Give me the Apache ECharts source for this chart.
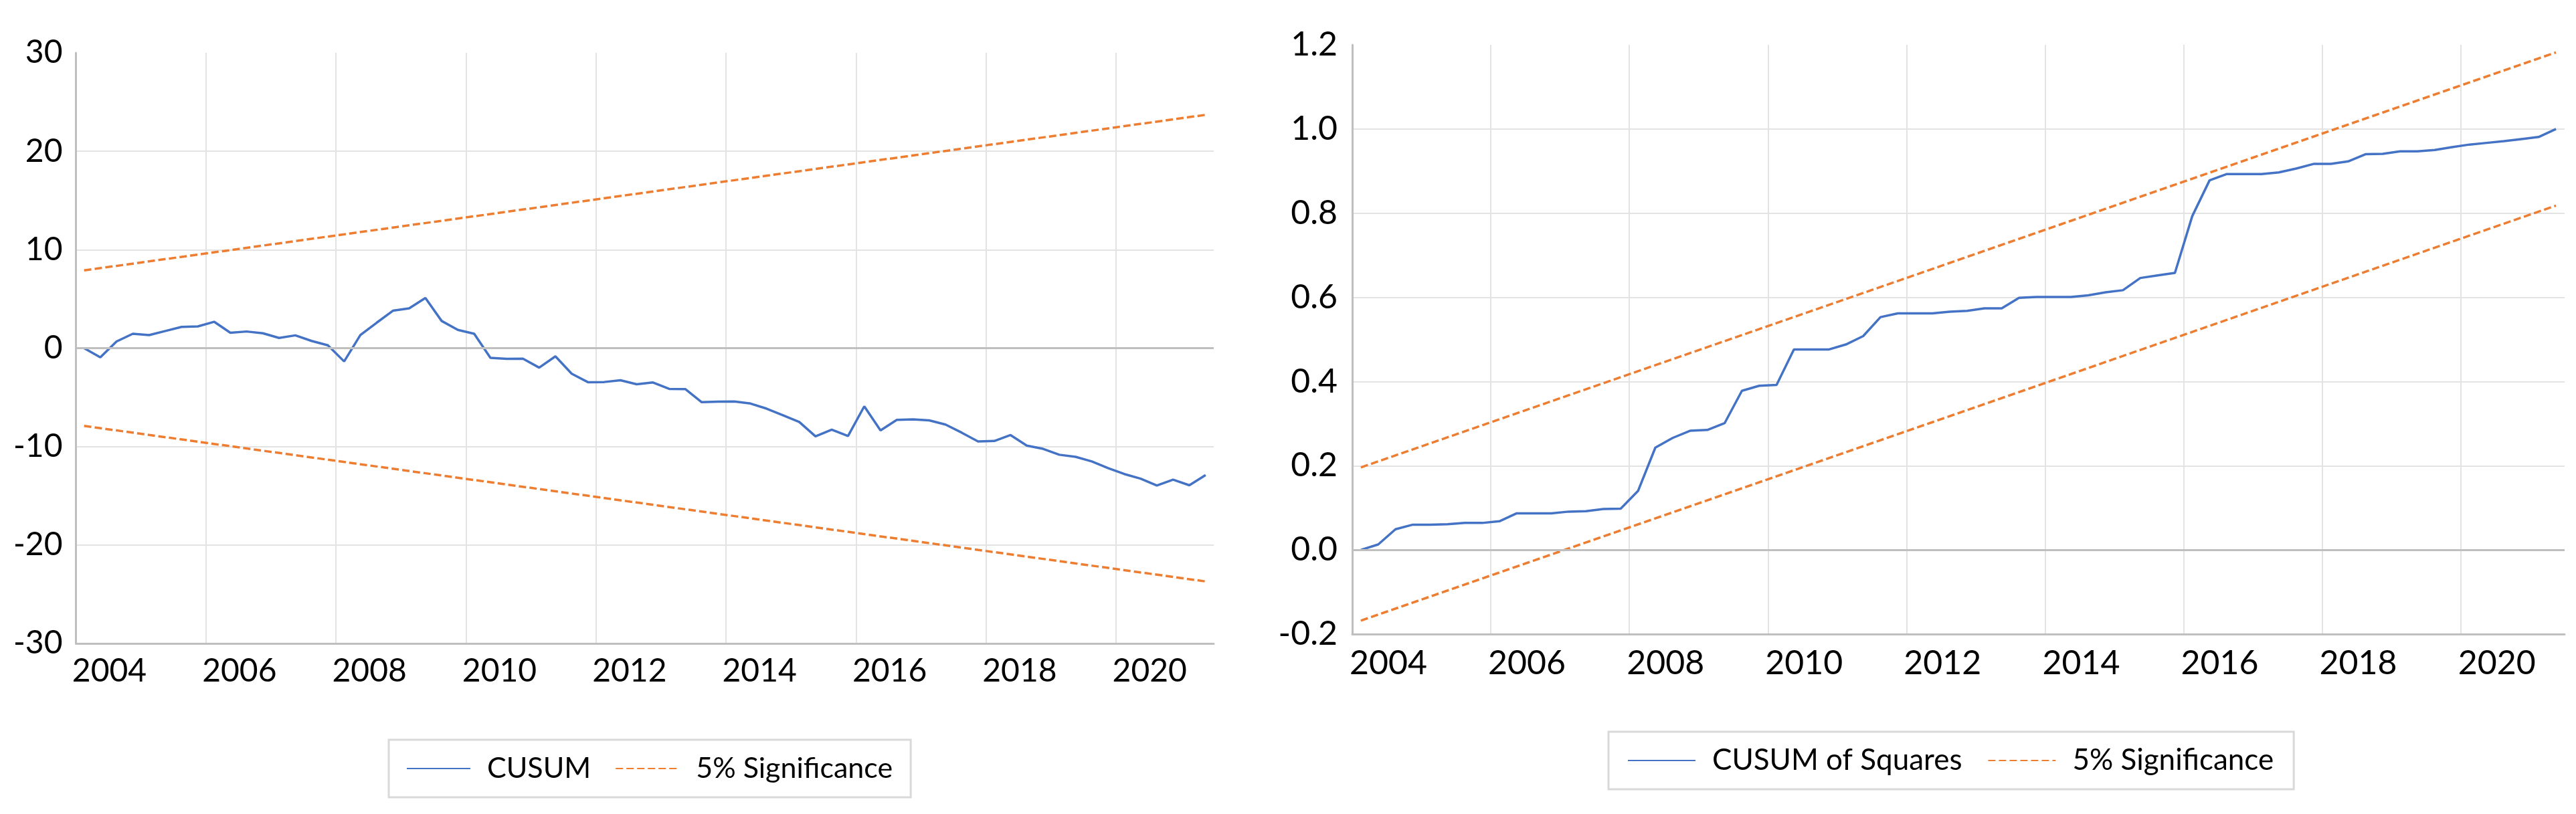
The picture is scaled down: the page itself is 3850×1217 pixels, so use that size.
<!DOCTYPE html>
<html>
<head>
<meta charset="utf-8">
<title>CUSUM / CUSUM of Squares</title>
<script src="https://cdn.jsdelivr.net/npm/echarts@6/dist/echarts.min.js"></script>
<style>
  html, body { margin: 0; padding: 0; background: #fff; }
  #chart { width: 3850px; height: 1217px; }
</style>
</head>
<body>
<div id="chart"></div>
<script>
// quarterly sample
const quarters = [
  '2004Q1', '2004Q2', '2004Q3', '2004Q4', '2005Q1', '2005Q2', '2005Q3', '2005Q4',
  '2006Q1', '2006Q2', '2006Q3', '2006Q4', '2007Q1', '2007Q2', '2007Q3', '2007Q4',
  '2008Q1', '2008Q2', '2008Q3', '2008Q4', '2009Q1', '2009Q2', '2009Q3', '2009Q4',
  '2010Q1', '2010Q2', '2010Q3', '2010Q4', '2011Q1', '2011Q2', '2011Q3', '2011Q4',
  '2012Q1', '2012Q2', '2012Q3', '2012Q4', '2013Q1', '2013Q2', '2013Q3', '2013Q4',
  '2014Q1', '2014Q2', '2014Q3', '2014Q4', '2015Q1', '2015Q2', '2015Q3', '2015Q4',
  '2016Q1', '2016Q2', '2016Q3', '2016Q4', '2017Q1', '2017Q2', '2017Q3', '2017Q4',
  '2018Q1', '2018Q2', '2018Q3', '2018Q4', '2019Q1', '2019Q2', '2019Q3', '2019Q4',
  '2020Q1', '2020Q2', '2020Q3', '2020Q4', '2021Q1', '2021Q2'
]
const yearLabels = ['2004', '2006', '2008', '2010', '2012', '2014', '2016', '2018', '2020']

const cusum = [
  0.00, -0.94, 0.68, 1.46, 1.33, 1.74, 2.16, 2.21,
  2.68, 1.56, 1.69, 1.51, 1.04, 1.30, 0.73, 0.29,
  -1.35, 1.33, 2.58, 3.80, 4.04, 5.10, 2.76, 1.85,
  1.46, -0.99, -1.09, -1.07, -1.98, -0.83, -2.60, -3.46,
  -3.44, -3.26, -3.67, -3.49, -4.14, -4.17, -5.49, -5.44,
  -5.42, -5.63, -6.15, -6.82, -7.50, -8.96, -8.28, -8.93,
  -5.91, -8.36, -7.29, -7.24, -7.34, -7.76, -8.59, -9.48,
  -9.43, -8.83, -9.90, -10.23, -10.83, -11.04, -11.51, -12.19,
  -12.79, -13.26, -13.96, -13.36, -13.93, -12.89
]
// 5% bands are straight lines: values at first and last quarter
const cusumUpper = [7.9, 23.7]
const cusumLower = [-7.9, -23.7]

const cusumSq = [
  0.000, 0.013, 0.049, 0.060, 0.060, 0.061, 0.064, 0.064,
  0.068, 0.087, 0.087, 0.087, 0.091, 0.092, 0.097, 0.098,
  0.140, 0.243, 0.266, 0.283, 0.285, 0.301, 0.378, 0.390,
  0.392, 0.476, 0.476, 0.476, 0.488, 0.508, 0.553, 0.562,
  0.562, 0.562, 0.566, 0.568, 0.574, 0.574, 0.599, 0.601,
  0.601, 0.601, 0.605, 0.612, 0.617, 0.646, 0.652, 0.658,
  0.793, 0.878, 0.893, 0.893, 0.893, 0.897, 0.906, 0.917,
  0.917, 0.923, 0.940, 0.941, 0.947, 0.947, 0.950, 0.957,
  0.963, 0.967, 0.971, 0.976, 0.981, 1.000
]
const sqUpper = [0.196, 1.182]
const sqLower = [-0.168, 0.818]

const BLUE = '#4472C4'
const ORANGE = '#ED7D31'
const AXIS_GRAY = '#bfbfbf'
const GRID_GRAY = '#e3e3e3'
const FONT = 'Lato, "Open Sans", sans-serif'

// each quarter sits in the middle of its slot on the value axis
const toPoints = arr => arr.map((v, i) => [i + 0.5, v])
const toBand = ends => [[0.5, ends[0]], [quarters.length - 0.5, ends[1]]]

const xAxisFor = (gridIndex, fontSize, margin, shift) => ({
  type: 'value',
  gridIndex,
  min: 0,
  max: quarters.length,
  interval: 8,
  axisLine: { show: true, onZero: false, lineStyle: { color: AXIS_GRAY, width: 3 } },
  axisTick: { show: false },
  splitLine: {
    show: true, showMinLine: false, showMaxLine: false,
    lineStyle: { color: GRID_GRAY, width: 2 }
  },
  axisLabel: {
    margin,
    fontSize,
    fontFamily: FONT,
    color: '#000',
    align: 'center',
    padding: [0, 0, 0, shift],
    showMaxLabel: false,
    formatter: v => yearLabels[v / 8] || ''
  }
})

const yAxisFor = (gridIndex, min, max, interval, fontSize, margin, fmt) => ({
  type: 'value',
  gridIndex,
  min,
  max,
  interval,
  axisLine: { show: true, onZero: false, lineStyle: { color: AXIS_GRAY, width: 3 } },
  axisTick: { show: false },
  splitLine: {
    show: true, showMinLine: false, showMaxLine: false,
    lineStyle: { color: GRID_GRAY, width: 2 }
  },
  axisLabel: {
    margin,
    fontSize,
    fontFamily: FONT,
    color: '#000',
    padding: [0, 0, 22, 0],
    formatter: fmt
  }
})

const zeroLine = {
  silent: true,
  symbol: 'none',
  label: { show: false },
  lineStyle: { color: AXIS_GRAY, width: 3, type: 'solid' },
  data: [{ yAxis: 0 }]
}

const band = (name, idx, data, withZero) => ({
  name,
  type: 'line',
  xAxisIndex: idx,
  yAxisIndex: idx,
  data,
  symbol: 'none',
  lineStyle: { color: ORANGE, width: 3.5, type: [11, 5] },
  itemStyle: { color: ORANGE },
  z: 2,
  markLine: withZero ? zeroLine : undefined
})

// line swatches only, no marker in the middle
const legendFor = (names, left, top, fontSize, itemWidth, itemGap, padding) => ({
  data: names,
  left,
  top,
  orient: 'horizontal',
  selectedMode: false,
  itemWidth,
  itemHeight: 4,
  itemGap,
  padding,
  itemStyle: { opacity: 0 },
  borderColor: '#d9d9d9',
  borderWidth: 3,
  textStyle: {
    fontSize,
    fontFamily: FONT,
    color: '#000',
    lineHeight: 50,
    padding: [0, 0, 0, 20]
  }
})

const chart = echarts.init(document.getElementById('chart'))

chart.setOption({
  animation: false,
  backgroundColor: '#fff',
  grid: [
    { left: 113.5, top: 79, width: 1700.5, height: 883 },
    { left: 2021, top: 67, width: 1812, height: 881 }
  ],
  xAxis: [
    xAxisFor(0, 48, 18, 100),
    xAxisFor(1, 50, 19, 108)
  ],
  yAxis: [
    yAxisFor(0, -30, 30, 10, 48, 20, v => String(v)),
    yAxisFor(1, -0.2, 1.2, 0.2, 50, 22, v => v.toFixed(1))
  ],
  legend: [
    legendFor(['CUSUM', '5% Significance'], 581, 1106, 43, 95, 36, [18, 27, 18, 26]),
    legendFor(['CUSUM of Squares', '5% Significance'], 2404, 1094, 44, 101, 38, [18, 30, 18, 28])
  ],
  series: [
    band('5% Significance', 0, toBand(cusumUpper), true),
    band('5% Significance', 0, toBand(cusumLower), false),
    {
      name: 'CUSUM',
      type: 'line',
      xAxisIndex: 0,
      yAxisIndex: 0,
      data: toPoints(cusum),
      symbol: 'none',
      lineStyle: { color: BLUE, width: 3.5 },
      itemStyle: { color: BLUE },
      z: 3
    },
    band('5% Significance', 1, toBand(sqUpper), true),
    band('5% Significance', 1, toBand(sqLower), false),
    {
      name: 'CUSUM of Squares',
      type: 'line',
      xAxisIndex: 1,
      yAxisIndex: 1,
      data: toPoints(cusumSq),
      symbol: 'none',
      lineStyle: { color: BLUE, width: 3.5 },
      itemStyle: { color: BLUE },
      z: 3
    }
  ]
})

window.addEventListener('resize', () => chart.resize())
</script>
</body>
</html>
